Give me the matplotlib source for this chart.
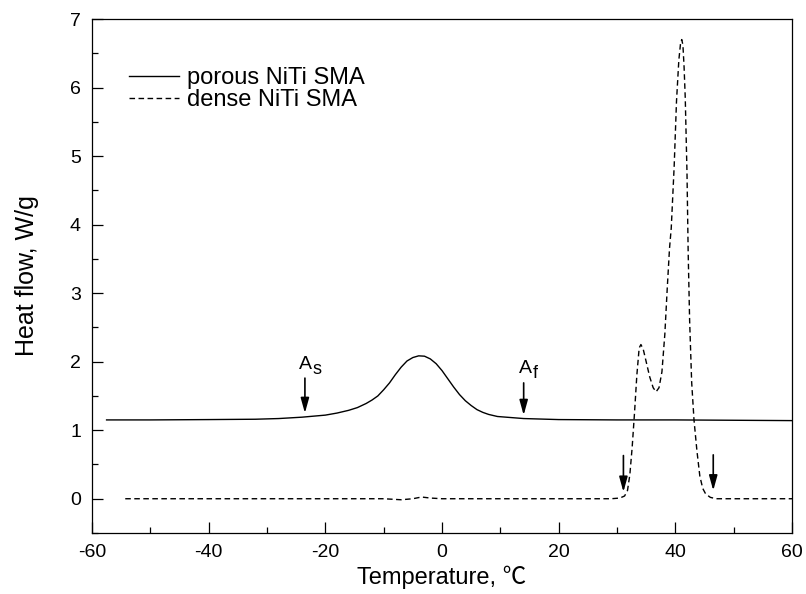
import matplotlib
matplotlib.use('Agg')
import matplotlib.pyplot as plt
from matplotlib.ticker import MultipleLocator

plt.rcParams['font.family'] = ['Liberation Sans', 'Noto Sans CJK SC', 'DejaVu Sans']
plt.rcParams['axes.unicode_minus'] = False

# porous NiTi SMA (solid)
porous_t = [-57.5, -50, -40, -32, -28, -24, -20, -18, -16, -14.5, -13, -12, -11, -10,
            -9, -8, -7, -6, -5, -4, -3, -2, -1, 0, 1, 2, 3, 4, 5, 6, 7, 8, 9.5,
            11, 14, 20, 30, 40, 50, 60]
porous_v = [1.15, 1.15, 1.155, 1.16, 1.17, 1.19, 1.22, 1.25, 1.29, 1.33, 1.39, 1.44,
            1.50, 1.59, 1.69, 1.81, 1.92, 2.01, 2.06, 2.085, 2.08, 2.04, 1.97, 1.87,
            1.75, 1.63, 1.52, 1.43, 1.36, 1.30, 1.26, 1.23, 1.20, 1.19, 1.17, 1.155,
            1.15, 1.15, 1.145, 1.14]

# dense NiTi SMA (dashed)
dense_t = [-54.3, -20, -10, -7, -5, -3.5, -2, 0, 10, 20, 29, 30.5, 31.3, 31.8, 32.2,
           32.6, 33.0, 33.4, 33.8, 34.1, 34.5, 35.0, 35.6, 36.2, 36.7, 37.2, 37.7,
           38.2, 38.6, 39.0, 39.3, 39.8, 40.2, 40.6, 40.9, 41.1, 41.3, 41.5, 41.7,
           42.0, 42.2, 42.45, 42.8, 43.2, 43.7, 44.2, 44.7, 45.2, 46.0, 47.0, 60]
dense_v = [0, 0, 0, -0.015, 0, 0.025, 0.01, 0, 0, 0, 0, 0.01, 0.04, 0.12, 0.35,
           0.75, 1.25, 1.80, 2.20, 2.25, 2.18, 2.00, 1.78, 1.62, 1.56, 1.62, 1.85,
           2.40, 3.05, 3.65, 3.95, 4.85, 5.80, 6.40, 6.65, 6.70, 6.62, 6.30, 5.85,
           4.75, 3.60, 2.60, 1.70, 1.15, 0.70, 0.33, 0.15, 0.07, 0.02, 0.0, 0.0]

# transformation arrows
arrow_t = [-23.5, 14.0, 31.1, 46.5]
arrow_top = [1.76, 1.69, 0.63, 0.64]
arrow_tip = [1.25, 1.22, 0.10, 0.12]
arrow_main = ['A', 'A', '', '']
arrow_sub = ['s', 'f', '', '']
label_t = [-23.4, 14.3, 0, 0]
label_v = [1.90, 1.84, 0, 0]

fig = plt.figure(figsize=(8.06, 5.94), dpi=100)
ax = fig.add_axes([92 / 806, 1 - 533 / 594, 700 / 806, 514 / 594])

ax.plot(porous_t, porous_v, color='black', lw=1.0, label='porous NiTi SMA')
ax.plot(dense_t, dense_v, color='black', lw=1.0, linestyle=(0, (4, 2.5)),
        label='dense NiTi SMA')

for i in range(len(arrow_t)):
    ax.annotate('', xy=(arrow_t[i], arrow_tip[i]), xytext=(arrow_t[i], arrow_top[i]),
                arrowprops=dict(arrowstyle='-|>,head_length=0.9,head_width=0.25',
                                color='black', lw=1.2, shrinkA=0, shrinkB=0))
    if arrow_main[i]:
        ax.text(label_t[i], label_v[i], arrow_main[i], fontsize=14,
                ha='center', va='baseline')
        ax.annotate(arrow_sub[i], xy=(label_t[i], label_v[i]), xytext=(5, -4),
                    textcoords='offset points', fontsize=13, ha='left', va='baseline')

ax.set_xlim(-60, 60)
ax.set_ylim(-0.5, 7)
ax.xaxis.set_major_locator(MultipleLocator(20))
ax.xaxis.set_minor_locator(MultipleLocator(10))
ax.yaxis.set_major_locator(MultipleLocator(1))
ax.yaxis.set_minor_locator(MultipleLocator(0.5))
ax.tick_params(which='both', direction='in', top=False, right=False,
               labelsize=14, width=0.9)
ax.tick_params(which='major', length=8, pad=8)
ax.tick_params(which='minor', length=4)
for sp in ax.spines.values():
    sp.set_linewidth(0.9)

ax.set_xlabel('Temperature, ℃', fontsize=17, labelpad=3)
ax.set_ylabel('Heat flow, W/g', fontsize=18, labelpad=22)

ax.legend(loc='upper left', bbox_to_anchor=(0.04, 0.925), frameon=False,
          fontsize=17, handlelength=2.1, handletextpad=0.35, labelspacing=0.0,
          borderaxespad=0)

plt.savefig('out.png', dpi=100)
